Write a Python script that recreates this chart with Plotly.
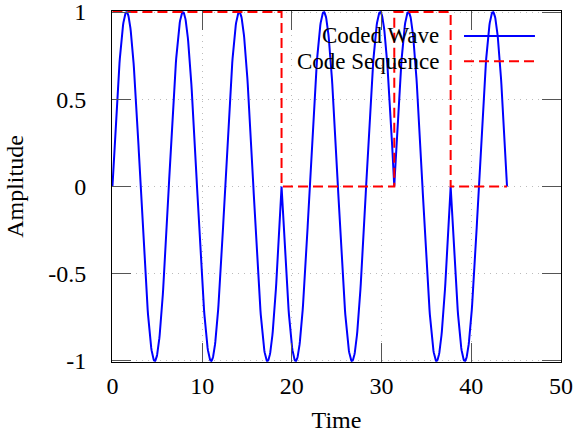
import numpy as np
import plotly.graph_objects as go

# ---- data ----
code_bits = [1, 1, 1, 0, 0, 1, 0]          # one code bit per carrier period
carrier_period = 2 * np.pi                  # period of the sine carrier
samples_per_period = 160
x_ticks = [0, 10, 20, 30, 40, 50]
y_ticks = [-1, -0.5, 0, 0.5, 1]
y_tick_labels = ["-1", "-0.5", "0", "0.5", "1"]

# coded wave: carrier phase flipped (BPSK) where the code bit is 0
n_bits = len(code_bits)
t = np.linspace(0, n_bits * carrier_period, n_bits * samples_per_period + 1)
bit_index = np.minimum((t // carrier_period).astype(int), n_bits - 1)
polarity = np.where(np.array(code_bits)[bit_index] == 1, 1.0, -1.0)
wave = polarity * np.sin(t)

# code sequence as a step
code_x = [k * carrier_period for k in range(n_bits + 1)]
code_y = code_bits + [code_bits[-1]]

FONT = "Liberation Serif"
FS = 24

fig = go.Figure()
fig.add_trace(go.Scatter(x=t, y=wave, mode="lines", name="Coded Wave",
                         line=dict(color="#0000ff", width=2), showlegend=False))
fig.add_trace(go.Scatter(x=code_x, y=code_y, mode="lines", name="Code Sequence",
                         line=dict(color="#ff0000", width=2, dash="10px,5px", shape="hv"),
                         showlegend=False))

axis_common = dict(
    showline=True, linecolor="black", linewidth=1, mirror="ticks",
    ticks="inside", ticklen=19, tickwidth=1, tickcolor="#555555",
    showgrid=True, gridcolor="#bbbbbb", gridwidth=1, griddash="1px,5px",
    zeroline=False, automargin=False, ticklabeloverflow="allow",
    tickfont=dict(family=FONT, size=FS, color="black"),
)

fig.update_xaxes(range=[-0.05, 50], tickvals=x_ticks,
                 title=dict(text="Time", font=dict(family=FONT, size=FS, color="black"), standoff=13),
                 ticklabelstandoff=2, **axis_common)
fig.update_yaxes(range=[-1.006, 1.006], tickvals=y_ticks, ticktext=y_tick_labels,
                 title=dict(text="Amplitude", font=dict(family=FONT, size=FS, color="black"), standoff=17),
                 ticklabelstandoff=20, **axis_common)

# manual gnuplot-style legend (text right-aligned, sample on the right)
leg_items = [("Coded Wave", "#0000ff", "solid", 0.929),
             ("Code Sequence", "#ff0000", "10px,5px", 0.857)]
for text, color, dash, yy in leg_items:
    fig.add_annotation(x=0.7305, y=yy, xref="paper", yref="paper", text=text,
                       xanchor="right", yanchor="middle", showarrow=False, borderpad=0,
                       font=dict(family=FONT, size=23, color="black"))
    fig.add_shape(type="line", xref="paper", yref="paper", x0=0.784, x1=0.942, y0=yy, y1=yy,
                  line=dict(color=color, width=2, dash=dash))

fig.update_layout(
    width=576, height=437,
    margin=dict(l=112, r=15, t=11, b=75),
    plot_bgcolor="white", paper_bgcolor="white",
    font=dict(family=FONT, size=FS, color="black"),
)

fig.write_html("out.html", config={"displayModeBar": False},
               post_script="document.body.style.margin='0';document.body.style.padding='0';")
